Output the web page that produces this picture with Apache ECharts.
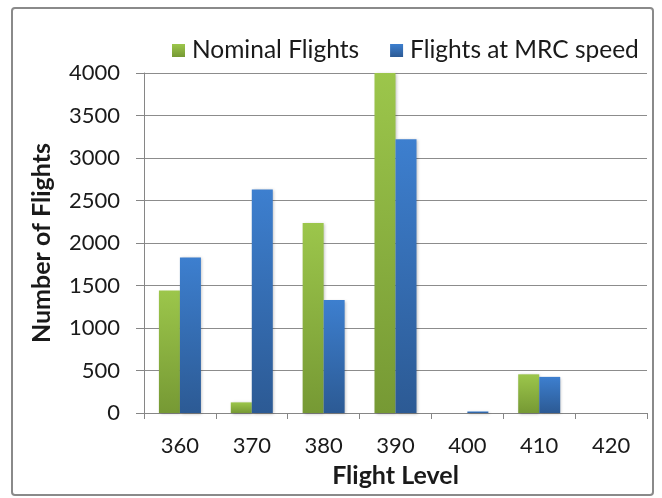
<!DOCTYPE html>
<html>
<head>
<meta charset="utf-8">
<script src="https://cdn.jsdelivr.net/npm/echarts@6/dist/echarts.min.js"></script>
<style>html,body{margin:0;padding:0;background:#fff;}#c{width:662px;height:498px;}</style>
</head>
<body>
<div id="c"></div>
<script>
const categories = ['360','370','380','390','400','410','420'];
const nominal = [1440, 125, 2235, 4000, 0, 455, 0];
const mrc = [1830, 2630, 1330, 3220, 18, 425, 0];
const yTicks = [0, 500, 1000, 1500, 2000, 2500, 3000, 3500, 4000];

const chart = echarts.init(document.getElementById('c'), null, {renderer: 'canvas'});
const font = 'Lato, "Open Sans", sans-serif';
function grad(top, bottom) {
  return new echarts.graphic.LinearGradient(0, 0, 0, 1, [{offset: 0, color: top}, {offset: 1, color: bottom}]);
}
chart.setOption({
  animation: false,
  backgroundColor: '#fff',
  graphic: [{
    type: 'rect', shape: {x: 12, y: 8, width: 641, height: 487, r: 3},
    style: {fill: 'none', stroke: '#8a8a8a', lineWidth: 2}
  }],
  legend: {
    data: ['Nominal Flights', 'Flights at MRC speed'],
    top: 33, left: 167,
    itemWidth: 13, itemHeight: 13, itemGap: 31,
    icon: 'rect',
    textStyle: {fontFamily: font, fontSize: 24.5, color: '#1a1a1a', padding: [0, 0, 0, 2]}
  },
  grid: {left: 144, right: 15, top: 73, bottom: 85, containLabel: false},
  xAxis: {
    type: 'category', data: categories,
    name: 'Flight Level', nameLocation: 'middle', nameGap: 50,
    nameTextStyle: {fontFamily: font, fontSize: 25, fontWeight: 'bold', color: '#1a1a1a'},
    axisLine: {lineStyle: {color: '#868686', width: 1}},
    axisTick: {show: true, length: 6, alignWithLabel: false, lineStyle: {color: '#868686'}},
    axisLabel: {fontFamily: font, fontSize: 22, color: '#1a1a1a', margin: 22}
  },
  yAxis: {
    type: 'value', min: 0, max: 4000, interval: 500,
    name: 'Number of Flights', nameLocation: 'middle', nameGap: 90, nameRotate: 90,
    nameTextStyle: {fontFamily: font, fontSize: 25, fontWeight: 'bold', color: '#1a1a1a'},
    axisLine: {show: true, lineStyle: {color: '#868686', width: 1}},
    axisTick: {show: true, length: 8, inside: false, lineStyle: {color: '#868686'}},
    axisLabel: {fontFamily: font, fontSize: 22, color: '#1a1a1a', margin: 24,
      formatter: v => yTicks.includes(v) ? String(v) : ''},
    splitLine: {show: true, lineStyle: {color: '#8c8c8c', width: 1}}
  },
  series: [{
    name: 'Nominal Flights', type: 'bar', data: nominal,
    barWidth: 21, barGap: '0%',
    itemStyle: {color: grad('#9cc64b', '#769934'), shadowColor: 'rgba(0,0,0,0.25)', shadowBlur: 3, shadowOffsetX: 1, shadowOffsetY: 1}
  }, {
    name: 'Flights at MRC speed', type: 'bar', data: mrc,
    barWidth: 21, barGap: '0%',
    itemStyle: {color: grad('#3d7fcf', '#2c5a94'), shadowColor: 'rgba(0,0,0,0.25)', shadowBlur: 3, shadowOffsetX: 1, shadowOffsetY: 1}
  }]
});
</script>
</body>
</html>
